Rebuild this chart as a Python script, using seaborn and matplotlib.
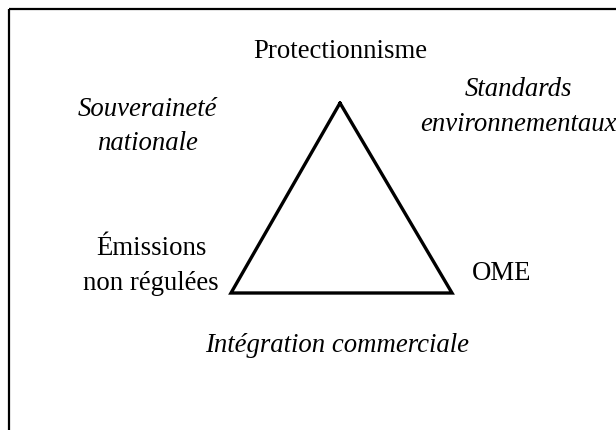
import matplotlib
matplotlib.use("Agg")
import matplotlib.pyplot as plt
import seaborn as sns
import pandas as pd

# triangle des objectifs (sommets en pixels de l'image)
tri_x = [340, 231, 452, 340]
tri_y = [103, 293, 293, 103]

# sommets
corner_labels = ["Protectionnisme", "Émissions\nnon régulées", "OME"]
corner_x = [340, 151, 502]
corner_y = [58, 290, 280]

# côtés (en italique)
side_labels = ["Souveraineté\nnationale", "Standards\nenvironnementaux", "Intégration commerciale"]
side_x = [147, 518, 337]
side_y = [150, 131, 352]

sns.set_theme(style="white")
plt.rcParams['font.family'] = ['Liberation Serif', 'DejaVu Serif']

fig = plt.figure(figsize=(6.16, 4.30), dpi=100)
ax = fig.add_axes([0, 0, 1, 1])

df = pd.DataFrame({"x": tri_x, "y": tri_y})
sns.lineplot(data=df, x="x", y="y", sort=False, estimator=None, color="black",
             linewidth=2.4, ax=ax)
for ln in ax.lines:
    ln.set_solid_joinstyle("miter")

# va="baseline" -> y = ligne de base de la derniere ligne
for lab, x, y in zip(corner_labels, corner_x, corner_y):
    ax.text(x, y, lab, ha="center", va="baseline", fontsize=19.3,
            linespacing=1.55, color="black")

for lab, x, y in zip(side_labels, side_x, side_y):
    ax.text(x, y, lab, ha="center", va="baseline", fontsize=19.3,
            linespacing=1.5, style="italic", color="black")

# cadre (haut et gauche seulement)
ax.plot([8.5, 616], [8.5, 8.5], color="black", lw=1.6, solid_capstyle="butt")
ax.plot([8.5, 8.5], [8.5, 430], color="black", lw=1.6, solid_capstyle="butt")

ax.set_xlim(0, 616)
ax.set_ylim(430, 0)
ax.set_axis_off()

fig.savefig("out.png", dpi=100)
